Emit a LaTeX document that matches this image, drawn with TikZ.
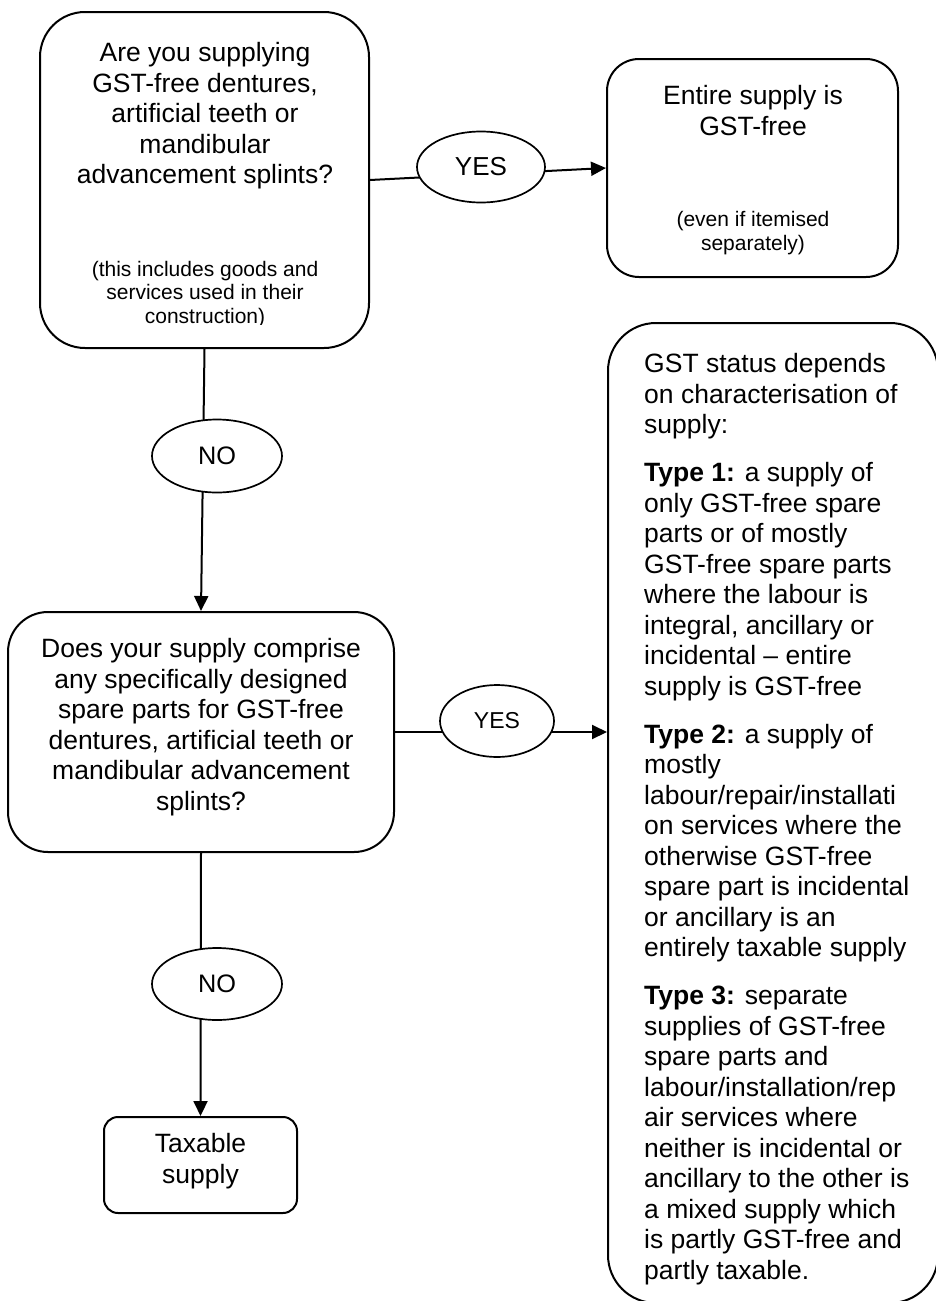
\documentclass[tikz,border=0pt]{standalone}
\usepackage{fontspec}
\setmainfont{Liberation Sans}
\usetikzlibrary{shapes.geometric,arrows.meta}
\tikzset{
  box/.style={draw, line width=2pt, inner sep=0pt},
  oval/.style={ellipse, draw, fill=white, line width=1.7pt, inner sep=0pt},
  conn/.style={line width=2pt},
  arr/.style={conn, -{Triangle[length=15pt,width=14pt]}},
  big/.style={font=\fontsize{26.5}{30.5}\selectfont, inner sep=0pt, anchor=base},
  small/.style={font=\fontsize{21}{23.5}\selectfont, inner sep=0pt, anchor=base},
}
\begin{document}
\begin{tikzpicture}[x=1pt,y=-1pt]
\useasboundingbox (0,0) rectangle (936,1301);
\path[clip] (0,0) rectangle (936,1301);
% boxes
\node[box, rounded corners=45pt, minimum width=329pt, minimum height=336pt] (q1) at (204.5,180) {};
\node[box, rounded corners=32pt, minimum width=291pt, minimum height=218pt] (r1) at (752.5,168) {};
\node[box, rounded corners=40pt, minimum width=386pt, minimum height=240pt] (q2) at (201,732) {};
\node[box, rounded corners=14pt, minimum width=193pt, minimum height=96pt] (tx) at (200.5,1165) {};
\node[box, rounded corners=48pt, minimum width=330pt, minimum height=980pt] (r2) at (773,813) {};
% texts (base anchor = baseline of the last line)
\node[big, align=center] (q1t) at (205,183.5) {Are you supplying\\GST-free dentures,\\artificial teeth or\\mandibular\\advancement splints?};
\begin{scope}
\clip (40,12) rectangle (370,324.5);
\node[small, align=center] (q1s) at (205,323) {(this includes goods and\\services used in their\\construction)};
\end{scope}
\node[big, align=center] (r1t) at (753,135) {Entire supply is\\GST-free};
\node[small, align=center] (r1s) at (753,250) {(even if itemised\\separately)};
\node[big, align=center] (q2t) at (201,810) {Does your supply comprise\\any specifically designed\\spare parts for GST-free\\dentures, artificial teeth or\\mandibular advancement\\splints?};
\node[big, align=center] (txt) at (200.5,1183) {Taxable\\supply};
\node[big, align=left, anchor=base west] (r2t) at (644,1279) {GST status depends\\on characterisation of\\supply:\\[17.5pt]
\textbf{Type 1:} a supply of\\only GST-free spare\\parts or of mostly\\GST-free spare parts\\where the labour is\\integral, ancillary or\\incidental -- entire\\supply is GST-free\\[17.5pt]
\textbf{Type 2:} a supply of\\mostly\\labour/repair/installati\\on services where the\\otherwise GST-free\\spare part is incidental\\or ancillary is an\\entirely taxable supply\\[17.5pt]
\textbf{Type 3:} separate\\supplies of GST-free\\spare parts and\\labour/installation/rep\\air services where\\neither is incidental or\\ancillary to the other is\\a mixed supply which\\is partly GST-free and\\partly taxable.};
% connectors
\draw[arr] (q1.east) -- (r1.west);
\draw[arr] (q1.south) -- (q2.north);
\draw[arr] (q2.east) -- (q2.east -| r2.west);
\draw[arr] (q2.south) -- (tx.north);
% decision labels
\node[oval, minimum width=128pt, minimum height=71pt, font=\fontsize{26}{30}\selectfont] (yes1) at (481,167) {YES};
\node[oval, minimum width=130pt, minimum height=73pt, font=\fontsize{25.3}{30}\selectfont] (no1) at (217,456) {NO};
\node[oval, minimum width=114pt, minimum height=72pt, font=\fontsize{23}{28}\selectfont] (yes2) at (497,721) {YES};
\node[oval, minimum width=130pt, minimum height=72pt, font=\fontsize{25.3}{30}\selectfont] (no2) at (217,984) {NO};
\end{tikzpicture}
\end{document}
